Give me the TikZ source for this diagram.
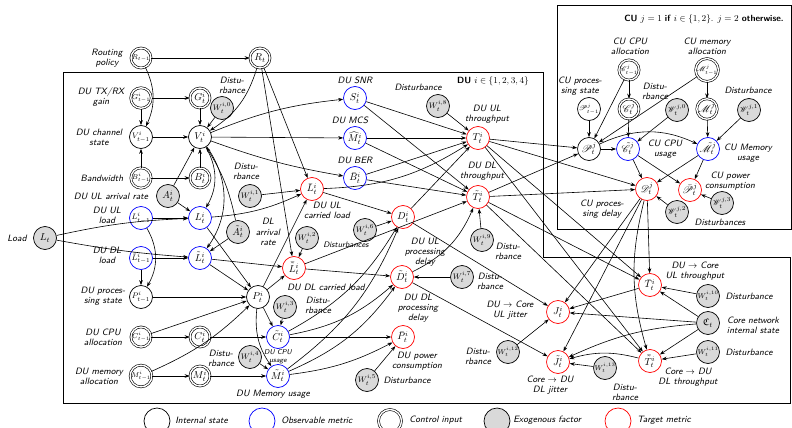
\documentclass[tikz,border=0pt]{standalone}
\usepackage{amsmath,amsfonts,amssymb}
\usepackage{mathrsfs}
\usetikzlibrary{arrows.meta}

\begin{document}
\begin{tikzpicture}[x=1pt, y=-1pt,
  every node/.style={font=\normalsize, inner sep=0pt},
  st/.style={circle, draw, line width=0.7pt, minimum size=23pt},
  obs/.style={st, draw=blue},
  ctl/.style={st, double, double distance=1.4pt, line width=0.6pt, minimum size=20pt},
  exo/.style={st, fill=gray!30},
  tgt/.style={st, draw=red},
  lbl/.style={font=\sffamily\itshape\fontsize{9.2}{10.2}\selectfont, align=center},
  sml/.style={font=\sffamily\itshape\fontsize{7}{8}\selectfont, align=center},
  >={Stealth[length=5pt,width=3.6pt]}, line width=0.6pt
]
\useasboundingbox (0,0) rectangle (792,428);

% boxes
\draw (63,72) -- (543,72) -- (543,257) -- (790,257) -- (790,403) -- (63,403) -- cycle;
\draw[fill=white] (557,5) rectangle (791.5,229);

% routing
\node[ctl, font=\scriptsize] (Rprev) at (141,58) {$R_{t-1}$};
\node[ctl] (R) at (260,58) {$R_t$};
\node[lbl] (lRprev) at (107,58) {Routing\\policy};

% DU, time t-1
\node[ctl, font=\scriptsize] (Gprev) at (141,98) {$G^i_{t-1}$};
\node[st, font=\footnotesize] (Vprev) at (141,137) {$V^i_{t-1}$};
\node[ctl, font=\scriptsize] (Bprev) at (141,178) {$B^i_{t-1}$};
\node[obs, font=\footnotesize] (Lprev) at (141,218) {$L^i_{t-1}$};
\node[obs, font=\footnotesize] (Ldprev) at (141,258) {$\tilde{L}^i_{t-1}$};
\node[st, font=\footnotesize] (Pprev) at (141,297) {$P^i_{t-1}$};
\node[ctl, font=\scriptsize] (Cprev) at (141,337) {$C^i_{t-1}$};
\node[ctl, font=\scriptsize] (Mprev) at (141,376) {$M^i_{t-1}$};
\node[lbl] (lGprev) at (101,97) {DU TX/RX\\gain};
\node[lbl] (lVprev) at (99,137) {DU channel\\state};
\node[lbl] (lBprev) at (102,178) {Bandwidth};
\node[lbl] (lAul) at (111,196) {DU UL arrival rate};
\node[lbl] (lLprev) at (107,215) {DU UL\\load};
\node[lbl] (lLdprev) at (107,255) {DU DL\\load};
\node[lbl] (lPprev) at (103,296) {DU proces-\\sing state};
\node[lbl] (lCprev) at (103,337) {DU CPU\\allocation};
\node[lbl] (lMprev) at (99,376) {DU memory\\allocation};

\node[exo] (Load) at (45,238) {$L_t$};
\node[lbl] (lLoad) at (17,238) {Load};

% DU, time t
\node[ctl] (G) at (200,98) {$G^i_t$};
\node[st] (V) at (200,137) {$V^i_t$};
\node[ctl] (B) at (200,178) {$B^i_t$};
\node[exo] (Aul) at (168,196) {$A^i_t$};
\node[obs] (L) at (200,218) {$L^i_t$};
\node[obs] (Ld) at (200,258) {$\tilde{L}^i_t$};
\node[exo] (Adl) at (238,232) {$\tilde{A}^i_t$};
\node[st] (P) at (258,297) {$P^i_t$};
\node[ctl] (C) at (200,337) {$C^i_t$};
\node[ctl] (M) at (200,376) {$M^i_t$};
\node[exo, font=\footnotesize] (W0) at (222,108) {$W^{i,0}_t$};
\node[exo, font=\footnotesize] (W1) at (250,196) {$W^{i,1}_t$};
\node[lbl] (lW0) at (232,85) {Distu-\\rbance};
\node[lbl] (lW1) at (246,171) {Distu-\\rbance};
\node[lbl] (lAdl) at (268,232) {DL\\arrival\\rate};

\node[obs] (S) at (355,98) {$S^i_t$};
\node[obs] (Mcs) at (355,138) {$\widehat{M}^i_t$};
\node[obs] (Ber) at (355,178) {$\bar{B}^i_t$};
\node[lbl] (lS) at (355,80) {DU SNR};
\node[lbl] (lMcs) at (350,120) {DU MCS};
\node[lbl] (lBer) at (355,160) {DU BER};

\node[tgt] (Lc) at (312,189) {$\bar{L}^i_t$};
\node[tgt] (Ldc) at (294,268) {$\bar{\tilde{L}}^i_t$};
\node[exo, font=\footnotesize] (W2) at (307,238) {$W^{i,2}_t$};
\node[lbl] (lLc) at (327,210) {DU UL\\carried load};
\node[lbl, font=\sffamily\itshape\fontsize{8}{9}\selectfont] (lW2) at (346,245) {Disturbances};
\node[lbl] (lLdc) at (326,287) {DU DL carried load};

\node[obs] (Cu) at (278,337) {$\tilde{C}^i_t$};
\node[obs] (Mu) at (278,376) {$\tilde{M}^i_t$};
\node[exo, font=\footnotesize] (W3) at (285,307) {$W^{i,3}_t$};
\node[exo, font=\footnotesize] (W4) at (250,357) {$W^{i,4}_t$};
\node[lbl] (lW3) at (318,305) {Distu-\\rbance};
\node[lbl] (lW4) at (221,358) {Distu-\\rbance};
\node[sml] (lCu) at (278,357) {DU CPU\\usage};
\node[lbl] (lMu) at (273,394) {DU Memory usage};

\node[tgt] (D) at (403,217) {$D^i_t$};
\node[tgt] (Dd) at (402,277) {$\tilde{D}^i_t$};
\node[exo, font=\footnotesize] (W6) at (365,230) {$W^{i,6}_t$};
\node[exo, font=\footnotesize] (W7) at (462,277) {$W^{i,7}_t$};
\node[lbl] (lD) at (425,252) {DU UL\\processing\\delay};
\node[lbl] (lDd) at (418,308) {DU DL\\processing\\delay};
\node[lbl] (lW7) at (490,281) {Distu-\\rbance};

\node[tgt] (Pw) at (403,337) {$\bar{P}^i_t$};
\node[exo, font=\footnotesize] (W5) at (367,380) {$W^{i,5}_t$};
\node[lbl] (lPw) at (417,361) {DU power\\consumption};
\node[lbl] (lW5) at (407,380) {Disturbance};

\node[tgt] (T) at (478,138) {$T^i_t$};
\node[tgt] (Td) at (478,197) {$\tilde{T}^i_t$};
\node[exo, font=\footnotesize] (W8) at (438,106) {$W^{i,8}_t$};
\node[exo, font=\footnotesize] (W9) at (482,240) {$W^{i,9}_t$};
\node[lbl] (lW8) at (418,87) {Disturbance};
\node[lbl] (lT) at (487,114) {DU UL\\throughput};
\node[lbl] (lTd) at (482,171) {DU DL\\throughput};
\node[lbl] (lW9) at (508,251) {Distu-\\rbance};
\node[font=\sffamily\fontsize{9}{10}\selectfont] (lDU) at (493,81) {\textbf{DU} $i\in\{1,2,3,4\}$};

% CU
\node[font=\sffamily\fontsize{9}{10}\selectfont] (lCU) at (704,19) {\textbf{CU} $j=1$ \textbf{if} $i\in\{1,2\}$. $j=2$ \textbf{otherwise.}};
\node[ctl, font=\scriptsize] (Cprevj) at (629,70) {$\mathscr{C}^j_{t-1}$};
\node[ctl, font=\scriptsize] (Mprevj) at (707,70) {$\mathscr{M}^j_{t-1}$};
\node[st, font=\scriptsize] (Pprevj) at (589,109) {$\mathscr{P}^j_{t-1}$};
\node[ctl] (Cj) at (629,109) {$\mathscr{C}^j_t$};
\node[ctl] (Mj) at (707,109) {$\mathscr{M}^j_t$};
\node[exo, font=\footnotesize] (Wj0) at (677,110) {$\mathscr{W}^{j,0}_t$};
\node[exo, font=\footnotesize] (Wj1) at (749,110) {$\mathscr{W}^{j,1}_t$};
\node[st] (Pj) at (589,149) {$\mathscr{P}^j_t$};
\node[obs] (Cuj) at (628,149) {$\tilde{\mathscr{C}}^j_t$};
\node[obs] (Muj) at (708,149) {$\tilde{\mathscr{M}}^j_t$};
\node[tgt] (Dj) at (647,189) {$\mathscr{D}^j_t$};
\node[tgt] (Pwj) at (690,190) {$\bar{\mathscr{P}}^j_t$};
\node[exo, font=\footnotesize] (Wj2) at (677,212) {$\mathscr{W}^{j,2}_t$};
\node[exo, font=\footnotesize] (Wj3) at (722,203) {$\mathscr{W}^{j,3}_t$};
\node[lbl] (lCprevj) at (630,46) {CU CPU\\allocation};
\node[lbl] (lMprevj) at (707,46) {CU memory\\allocation};
\node[lbl] (lPprevj) at (580,86) {CU proces-\\sing state};
\node[lbl] (lWj0) at (655,91) {Distu-\\rbance};
\node[lbl] (lWj1) at (748,90) {Disturbance};
\node[lbl] (lCuj) at (665,149) {CU CPU\\usage};
\node[lbl] (lMuj) at (748,153) {CU Memory\\usage};
\node[lbl] (lDj) at (602,209) {CU proces-\\sing delay};
\node[lbl] (lPwj) at (730,181) {CU power\\consumption};
\node[lbl] (lWj23) at (720,222) {Disturbances};

% core
\node[tgt] (Tc) at (650,285) {$\bar{T}^i_t$};
\node[tgt] (Tdc) at (650,361) {$\bar{\tilde{T}}^i_t$};
\node[tgt] (J) at (558,312) {$J^i_t$};
\node[tgt] (Jd) at (558,362) {$\tilde{J}^i_t$};
\node[exo] (Cc) at (708,323) {$\mathfrak{C}_t$};
\node[exo, font=\scriptsize] (W10) at (708,296) {$W^{i,10}_t$};
\node[exo, font=\scriptsize] (W11) at (708,352) {$W^{i,11}_t$};
\node[exo, font=\scriptsize] (W12) at (508,352) {$W^{i,12}_t$};
\node[exo, font=\scriptsize] (W13) at (605,368) {$W^{i,13}_t$};
\node[lbl] (lTc) at (695,271) {DU $\rightarrow$ Core\\UL throughput};
\node[lbl] (lW10) at (749,296) {Disturbance};
\node[lbl] (lCc) at (753,325) {Core network\\internal state};
\node[lbl] (lW11) at (749,352) {Disturbance};
\node[lbl] (lTdc) at (688,377) {Core $\rightarrow$ DU\\DL throughput};
\node[lbl] (lJ) at (510,310) {DU $\rightarrow$ Core\\UL jitter};
\node[lbl] (lJd) at (550,385) {Core $\rightarrow$ DU\\DL jitter};
\node[lbl] (lW12) at (478,356) {Distu-\\rbance};
\node[lbl] (lW13) at (625,392) {Distu-\\rbance};

% legend
\node[st, minimum size=26pt] (kSt) at (157,421) {};
\node[obs, minimum size=26pt] (kObs) at (262,421) {};
\node[ctl, minimum size=23pt] (kCtl) at (390,421) {};
\node[exo, minimum size=26pt] (kExo) at (497,421) {};
\node[tgt, minimum size=26pt] (kTgt) at (618,421) {};
\node[lbl, anchor=west] (lkSt) at (175,420) {Internal state};
\node[lbl, anchor=west] (lkObs) at (281,420) {Observable metric};
\node[lbl, anchor=west] (lkCtl) at (409,420) {Control input};
\node[lbl, anchor=west] (lkExo) at (513,420) {Exogenous factor};
\node[lbl, anchor=west] (lkTgt) at (637,420) {Target metric};

% edges: channel
\draw[->] (Rprev) -- (R);
\draw[->] (Rprev) to[bend left=25] (Vprev);
\draw[->] (Gprev) -- (G);
\draw[->] (Gprev) -- (Vprev);
\draw[->] (Vprev) -- (V);
\draw[->] (Bprev) -- (Vprev);
\draw[->] (Bprev) -- (B);
\draw[->] (G) -- (V);
\draw[->] (B) -- (V);
\draw[->] (W0) -- (V);
\draw[->] (R) to[bend left=20] (V);
\draw[->] (Aul) -- (V);
\draw[->] (Adl) to[bend right=10] (V);
\draw[->] (V) to[bend left=8] (S);
\draw[->] (V) -- (Mcs);
\draw[->] (V) to[bend right=5] (Ber);
% edges: load
\draw[->] (V) to[bend left=30] (L);
\draw[->] (V) to[bend left=35] (Ld);
\draw[->] (Aul) -- (L);
\draw[->] (Adl) -- (Ld);
\draw[->] (Lprev) -- (L);
\draw[->] (Ldprev) -- (Ld);
\draw[->] (Load) to[bend left=5] (L);
\draw[->] (Load) to[bend right=3] (Ld);
\draw[->] (Lprev) to[bend left=30] (Pprev);
\draw[->] (Ldprev) -- (Pprev);
\draw[->] (Pprev) -- (P);
\draw[->] (Cprev) -- (C);
\draw[->] (Cprev) -- (P);
\draw[->] (Mprev) -- (M);
\draw[->] (Mprev) to[bend right=10] (P);
\draw[->] (L) -- (P);
\draw[->] (Ld) -- (P);
\draw[->] (L) to[bend right=10] (Lc);
\draw[->] (W1) -- (Lc);
\draw[->] (Ld) -- (Ldc);
\draw[->] (P) -- (Lc);
\draw[->] (P) -- (Ldc);
\draw[->] (W2) -- (Ldc);
\draw[->] (R) -- (Lc);
\draw[->] (R) -- (Ldc);
% edges: compute
\draw[->] (P) -- (Cu);
\draw[->] (P) to[bend right=20] (Mu);
\draw[->] (C) -- (Cu);
\draw[->] (M) -- (Mu);
\draw[->] (W3) -- (Cu);
\draw[->] (W4) -- (Mu);
\draw[->] (Cu) -- (Pw);
\draw[->] (Mu) to[bend right=10] (Pw);
\draw[->] (W5) -- (Pw);
\draw[->] (Cu) to[bend right=15] (D);
\draw[->] (Cu) to[bend right=15] (Dd);
\draw[->] (Mu) to[bend right=15] (D);
\draw[->] (Mu) to[bend right=15] (Dd);
% edges: delay and throughput
\draw[->] (Lc) -- (D);
\draw[->] (Lc) to[bend right=15] (T);
\draw[->] (W6) -- (D);
\draw[->] (Ldc) -- (Dd);
\draw[->] (Ldc) -- (Td);
\draw[->] (W7) -- (Dd);
\draw[->] (D) -- (T);
\draw[->] (Dd) to[bend right=20] (Td);
\draw[->] (W9) -- (Td);
\draw[->] (S) -- (T);
\draw[->] (S) -- (Td);
\draw[->] (Mcs) -- (T);
\draw[->] (Mcs) -- (Td);
\draw[->] (Ber) -- (T);
\draw[->] (Ber) -- (Td);
\draw[->] (W8) -- (T);
% edges: CU
\draw[->] (Cprevj) -- (Cj);
\draw[->] (Cprevj) -- (Pj);
\draw[->] (Mprevj) -- (Mj);
\draw[->] (Mprevj) -- (Pj);
\draw[->] (Pprevj) -- (Pj);
\draw[->] (Pj) -- (Cuj);
\draw[->] (Pj) to[bend left=25] (Muj);
\draw[->] (Cj) -- (Cuj);
\draw[->] (Mj) -- (Muj);
\draw[->] (Wj0) -- (Cuj);
\draw[->] (Wj1) -- (Muj);
\draw[->] (Cuj) -- (Dj);
\draw[->] (Cuj) -- (Pwj);
\draw[->] (Muj) -- (Dj);
\draw[->] (Muj) -- (Pwj);
\draw[->] (Wj2) -- (Dj);
\draw[->] (Wj3) -- (Pwj);
\draw[->] (T) -- (Pj);
\draw[->] (Td) -- (Pj);
\draw[->] (T) -- (Dj);
\draw[->] (Td) -- (Dj);
% edges: core
\draw[->] (T) -- (Tc);
\draw[->] (T) -- (Tdc);
\draw[->] (Td) -- (Tc);
\draw[->] (Td) -- (Tdc);
\draw[->] (D) -- (J);
\draw[->] (Dd) -- (Jd);
\draw[->] (Dj) -- (Tc);
\draw[->] (Dj) -- (J);
\draw[->] (Dj) -- (Jd);
\draw[->] (Dj) to[bend right=15] (Tdc);
\draw[->] (Cc) -- (Tc);
\draw[->] (Cc) -- (J);
\draw[->] (Cc) to[bend right=10] (Jd);
\draw[->] (Cc) -- (Tdc);
\draw[->] (W10) -- (Tc);
\draw[->] (W11) -- (Tdc);
\draw[->] (W12) -- (J);
\draw[->] (W13) -- (Jd);
\draw[->] (Tc) -- (J);
\draw[->] (Tdc) to[bend right=15] (Jd);
\end{tikzpicture}
\end{document}
